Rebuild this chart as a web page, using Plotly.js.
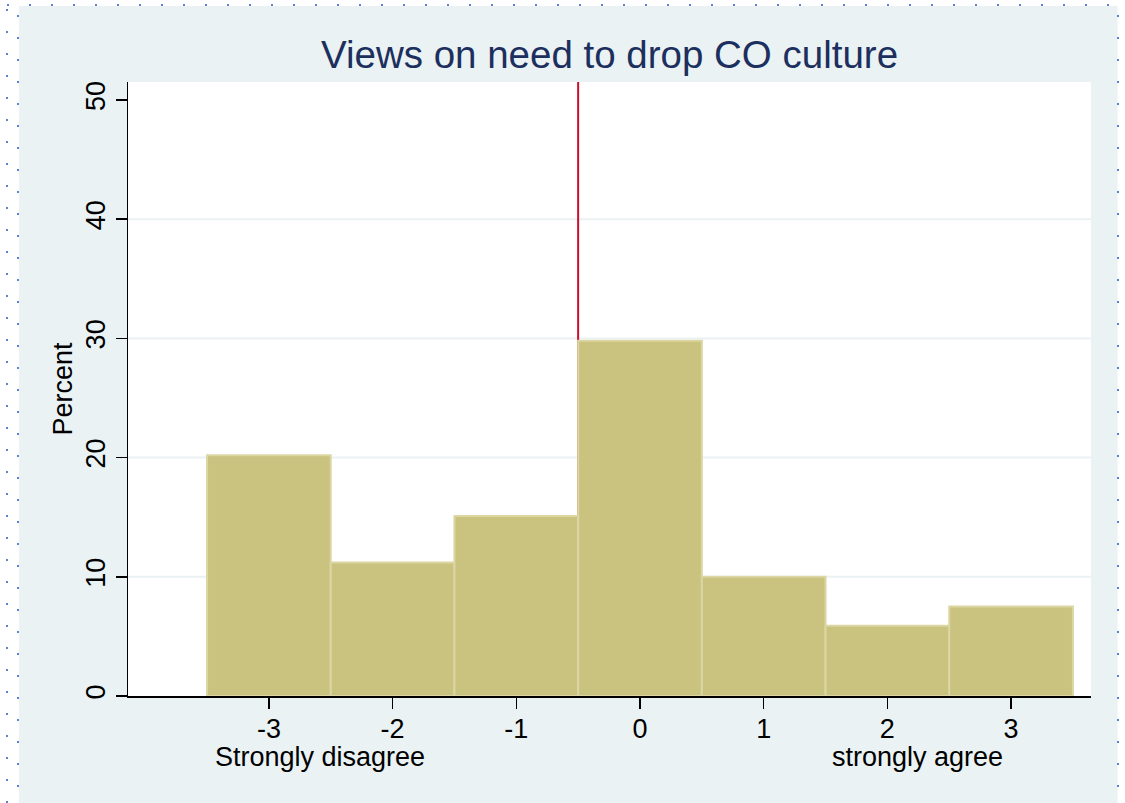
<!DOCTYPE html>
<html>
<head>
<meta charset="utf-8">
<script src="https://cdn.plot.ly/plotly-3.0.1.min.js"></script>
<style>
  html, body { margin: 0; padding: 0; background: #ffffff; }
  #chart { width: 1125px; height: 803px; }
</style>
</head>
<body>
<div id="chart"></div>
<script>
// ---- data ----
const categories = [-3, -2, -1, 0, 1, 2, 3];
const percents = [20.2, 11.2, 15.1, 29.8, 10.0, 5.9, 7.5];
const tickLabels = ['-3', '-2', '-1', '0', '1', '2', '3'];
const yTickVals = [0, 10, 20, 30, 40, 50];
const yTickText = ['0', '10', '20', '30', '40', '50'];
const gridVals = [10, 20, 30, 40];
const endLabels = ['Strongly disagree', 'strongly agree'];
const endLabelX = [-2.59, 2.24];
const refLineX = -0.5;
const titleText = 'Views on need to drop CO culture';

// ---- layout helpers (pixel -> paper) ----
const W = 1125, H = 803;
const M = {l: 128, r: 34, t: 82, b: 107};
const PW = W - M.l - M.r, PH = H - M.t - M.b;
const px = x => (x - M.l) / PW;
const py = y => (H - M.b - y) / PH;

const FONT = '"Liberation Sans", Arial, Helvetica, sans-serif';
const dotLine = {color: '#5b80d4', width: 2, dash: '2px,20px'};

const trace = {
  type: 'bar',
  x: categories,
  y: percents,
  width: 1,
  marker: {color: '#cac27f', line: {color: '#dbd6a2', width: 2}},
  hoverinfo: 'x+y',
  showlegend: false
};

const shapes = [
  // graph region background
  {type: 'rect', xref: 'paper', yref: 'paper', layer: 'below',
   x0: px(19), x1: px(1117.5), y0: py(810), y1: py(6),
   fillcolor: '#eaf2f3', line: {width: 0}},
  // plot region background
  {type: 'rect', xref: 'paper', yref: 'paper', layer: 'below',
   x0: 0, x1: 1, y0: 0, y1: 1, fillcolor: '#ffffff', line: {width: 0}},
  // dotted outer border
  {type: 'line', xref: 'paper', yref: 'paper', layer: 'below',
   x0: px(7), x1: px(1118), y0: py(5), y1: py(5), line: dotLine},
  {type: 'line', xref: 'paper', yref: 'paper', layer: 'below',
   x0: px(7), x1: px(7), y0: py(9), y1: py(803), line: dotLine},
  {type: 'line', xref: 'paper', yref: 'paper', layer: 'below',
   x0: px(18), x1: px(18), y0: py(15), y1: py(803), line: dotLine},
  {type: 'line', xref: 'paper', yref: 'paper', layer: 'below',
   x0: px(1118), x1: px(1118), y0: py(15), y1: py(803), line: dotLine}
];
// horizontal grid lines (drawn under the reference line and the bars)
gridVals.forEach(v => shapes.push({
  type: 'line', xref: 'paper', yref: 'y', layer: 'below',
  x0: 0, x1: 1, y0: v, y1: v, line: {color: '#eaf2f3', width: 2}
}));
// reference line (under the bars, over the grid)
shapes.push({type: 'line', xref: 'x', yref: 'paper', layer: 'below',
  x0: refLineX, x1: refLineX, y0: 0, y1: 1,
  line: {color: '#c8102e', width: 2}});

const annotations = endLabels.map((t, i) => ({
  text: t, xref: 'x', yref: 'paper', x: endLabelX[i], y: py(757),
  xanchor: 'center', yanchor: 'middle', showarrow: false,
  font: {family: FONT, size: 27, color: '#000000'}
}));

const layout = {
  width: W, height: H,
  margin: M,
  paper_bgcolor: '#ffffff',
  plot_bgcolor: '#ffffff',
  title: {
    text: titleText,
    font: {family: FONT, size: 38.5, color: '#1c2f5e'},
    x: 0.5, xref: 'paper', xanchor: 'center',
    y: 1 - 55 / H, yref: 'container', yanchor: 'middle'
  },
  xaxis: {
    range: [-4.139, 3.646],
    tickmode: 'array', tickvals: categories, ticktext: tickLabels,
    ticks: 'outside', ticklen: 11, tickwidth: 1.5, tickcolor: '#000000',
    ticklabelstandoff: -3,
    showline: true, linecolor: '#000000', linewidth: 1.5,
    showgrid: false, zeroline: false,
    tickfont: {family: FONT, size: 27, color: '#000000'},
    fixedrange: true
  },
  yaxis: {
    range: [0, 51.51],
    tickmode: 'array', tickvals: yTickVals, ticktext: yTickText,
    tickangle: -90,
    ticks: 'outside', ticklen: 11, tickwidth: 1.5, tickcolor: '#000000',
    showline: true, linecolor: '#000000', linewidth: 1.5,
    showgrid: false, zeroline: false,
    tickfont: {family: FONT, size: 27, color: '#000000'},
    title: {text: 'Percent', font: {family: FONT, size: 27, color: '#000000'}, standoff: 0},
    fixedrange: true
  },
  bargap: 0,
  shapes: shapes,
  annotations: annotations,
  showlegend: false
};

Plotly.newPlot('chart', [trace], layout, {displayModeBar: false, staticPlot: true});
</script>
</body>
</html>
